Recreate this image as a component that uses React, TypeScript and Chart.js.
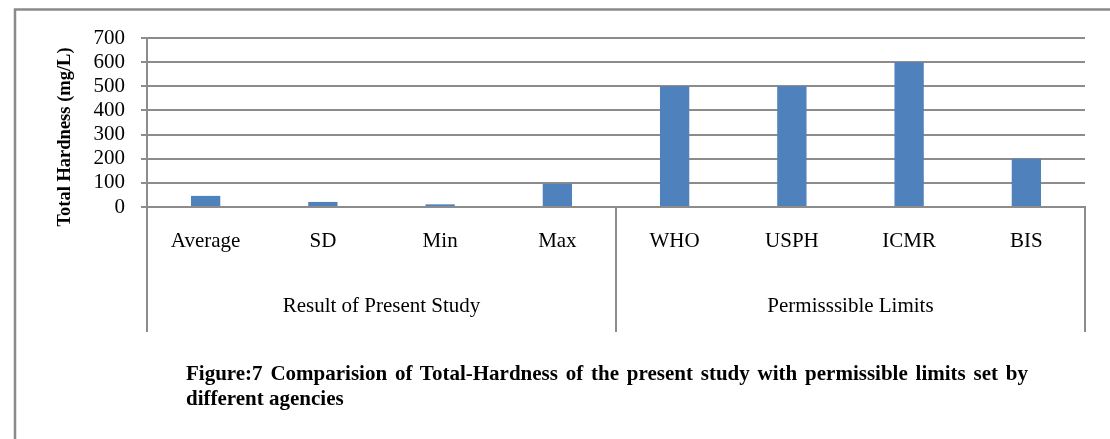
import React, { useEffect, useRef } from "react";
import { Chart, registerables } from "chart.js";

Chart.register(...registerables);

const categories = ["Average", "SD", "Min", "Max", "WHO", "USPH", "ICMR", "BIS"];
const hardness = [46, 21, 11, 96, 500, 500, 600, 200];
const groupLabels = ["Result of Present Study", "Permisssible Limits"];
const groupSizes = [4, 4];
const yMin = 0;
const yMax = 700;
const yStep = 100;
const yTitle = "Total Hardness (mg/L)";
const captionLine1 =
  "Figure:7 Comparision of Total-Hardness of the present study with permissible limits set by";
const captionLine2 = "different agencies";

const FONT = "'Liberation Serif', 'Times New Roman', serif";
const GRID = "#8c8c8c";

const decorPlugin = {
  id: "decor",
  afterDraw(chart: any) {
    const ctx = chart.ctx;
    const area = chart.chartArea;
    const x = chart.scales.x;
    ctx.save();
    // outer frame (left + top)
    ctx.strokeStyle = "#8a8a8a";
    ctx.lineWidth = 2.5;
    ctx.beginPath();
    ctx.moveTo(15, 439);
    ctx.lineTo(15, 9.5);
    ctx.lineTo(1110, 9.5);
    ctx.stroke();

    // group separators
    const bounds: number[] = [area.left];
    let idx = 0;
    for (let g = 0; g < groupSizes.length; g++) {
      idx += groupSizes[g];
      if (g < groupSizes.length - 1) {
        bounds.push((x.getPixelForValue(idx - 1) + x.getPixelForValue(idx)) / 2);
      }
    }
    bounds.push(area.right);
    ctx.strokeStyle = GRID;
    ctx.lineWidth = 2;
    for (const bx of bounds) {
      ctx.beginPath();
      ctx.moveTo(bx, area.bottom);
      ctx.lineTo(bx, 332);
      ctx.stroke();
    }

    // group labels
    ctx.fillStyle = "#000";
    ctx.font = `21px ${FONT}`;
    ctx.textAlign = "center";
    ctx.textBaseline = "middle";
    for (let g = 0; g < groupLabels.length; g++) {
      ctx.fillText(groupLabels[g], (bounds[g] + bounds[g + 1]) / 2, 306);
    }

    // y title
    ctx.translate(65, 137);
    ctx.rotate(-Math.PI / 2);
    ctx.font = `bold 18.5px ${FONT}`;
    ctx.fillText(yTitle, 0, 0);
    ctx.restore();
  },
};

export default function App() {
  const ref = useRef<HTMLCanvasElement | null>(null);

  useEffect(() => {
    if (!ref.current) return;
    const chart = new Chart(ref.current, {
      type: "bar",
      data: {
        labels: categories,
        datasets: [
          {
            data: hardness,
            backgroundColor: "#4f81bd",
            borderWidth: 0,
            barPercentage: 1,
            categoryPercentage: 0.25,
          },
        ],
      },
      options: {
        responsive: false,
        animation: false,
        layout: { padding: { left: 0, top: 38, right: 25, bottom: 0 } },
        plugins: {
          legend: { display: false },
          tooltip: { enabled: false },
          title: { display: false },
        },
        scales: {
          x: {
            grid: { display: false, drawTicks: false },
            border: { display: true, color: GRID, width: 2 },
            ticks: {
              color: "#000",
              font: { family: FONT, size: 21 },
              padding: 22,
              maxRotation: 0,
              autoSkip: false,
            },
            afterFit(scale: any) {
              scale.height = 439 - 207;
            },
          },
          y: {
            min: yMin,
            max: yMax,
            ticks: {
              stepSize: yStep,
              autoSkip: false,
              color: "#000",
              font: { family: FONT, size: 21 },
              padding: 16,
            },
            grid: { color: GRID, lineWidth: 2, tickLength: 6 },
            border: { display: true, color: GRID, width: 2 },
            afterFit(scale: any) {
              scale.width = 147;
            },
          },
        },
      },
      plugins: [decorPlugin],
    });
    return () => chart.destroy();
  }, []);

  const captionStyle: React.CSSProperties = {
    position: "absolute",
    left: 186,
    width: 842,
    fontFamily: FONT,
    fontWeight: "bold",
    fontSize: 21,
    lineHeight: "24.5px",
    color: "#000",
    whiteSpace: "nowrap",
  };

  return (
    <div style={{ position: "absolute", left: 0, top: 0, width: 1110, height: 439, background: "#fff", overflow: "hidden" }}>
      <canvas ref={ref} width={1110} height={439} style={{ position: "absolute", left: 0, top: 0, width: 1110, height: 439 }} />
      <div style={{ ...captionStyle, top: 361, textAlign: "justify", textAlignLast: "justify" as any, whiteSpace: "normal" }}>
        {captionLine1}
      </div>
      <div style={{ ...captionStyle, top: 385.5 }}>{captionLine2}</div>
    </div>
  );
}
